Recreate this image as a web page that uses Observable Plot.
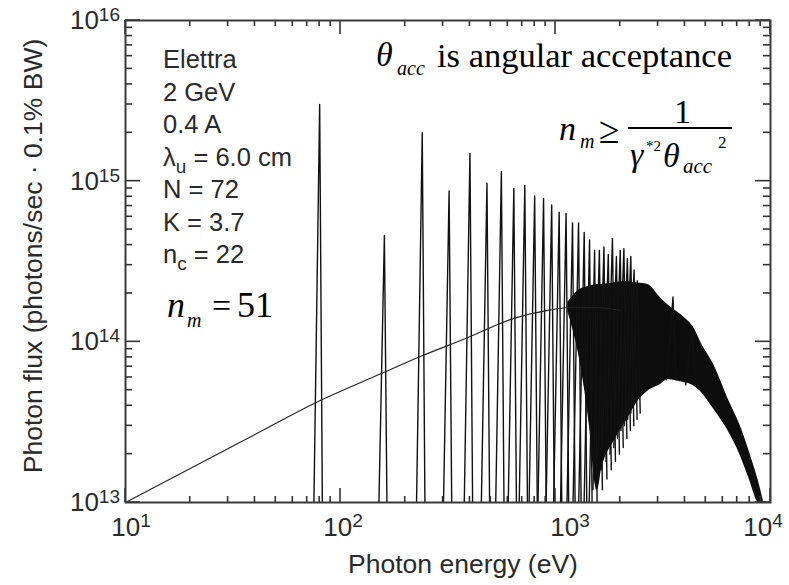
<!DOCTYPE html>
<html><head><meta charset="utf-8">
<script src="https://cdn.jsdelivr.net/npm/d3@7"></script>
<script src="https://cdn.jsdelivr.net/npm/@observablehq/plot@0.6"></script>
<style>
html,body{margin:0;padding:0;background:#fff;}
#chart svg{display:block;}
</style></head><body><div id="chart"></div>
<script>
// ---------- data ----------
// harmonic peaks: photon energy (eV) and peak flux
const harmonicE = [80,160,240,320,400,480,560,640,720,800,880,960,1040,1120,1200,1280,1360,1440,1520,1600,1680,1760,1840,1920,2000,2080,2160,2240,2320,2400,3520,4320];
const harmonicPeak = [3.0e15,4.6e14,2.0e15,8.7e14,1.49e15,9.7e14,1.15e15,9.0e14,9.4e14,8.1e14,7.8e14,7.1e14,6.4e14,6.3e14,5.5e14,5.5e14,4.8e14,4.3e14,3.7e14,3.7e14,3.9e14,3.5e14,4.4e14,3.4e14,3.7e14,3.8e14,3.3e14,3.4e14,2.8e14,2.4e14,1.9e14,1.25e14];
// lowest flux reached by the dips beside each harmonic (below 1e13 = off the axis)
const harmonicFloor = [5e12,5e12,5e12,5e12,5e12,5e12,5e12,5e12,5e12,5e12,5e12,5e12,5e12,5e12,5e12,5e12,5e12,5e12,5e12,1.2e13,1.4e13,1.6e13,1.8e13,2.0e13,2.2e13,2.5e13,2.8e13,3.0e13,3.3e13,3.6e13,5.8e13,5.4e13];
// dense high-energy band (overlapping harmonics): upper and lower envelope
const bandE      = [1150,1300,1450,1560,1620,1860,2120,2400,2680,3080,3320,3820,4380,4720,5430,6300,7250,8070,8700,9180];
const bandTop    = [1.75e14,2.1e14,2.2e14,2.25e14,2.25e14,2.3e14,2.35e14,2.3e14,2.25e14,1.85e14,1.68e14,1.46e14,1.21e14,9.8e13,7.1e13,4.4e13,2.9e13,1.9e13,1.37e13,1.03e13];
const bandBottom = [1.55e14,8.0e13,3.0e13,1.2e13,1.58e13,2.43e13,3.24e13,4.3e13,4.98e13,5.5e13,5.9e13,5.7e13,5.4e13,5.0e13,3.9e13,2.9e13,2.0e13,1.37e13,1.03e13,0.95e13];
// smooth (angle-integrated) curve
const smoothE = [10,20,40,80,153,235,390,640,920,1210,1600,2000];
const smoothF = [1.0e13,1.63e13,2.65e13,4.3e13,6.3e13,8.1e13,1.06e14,1.4e14,1.57e14,1.64e14,1.63e14,1.57e14];
// axes
const xTicks = [10,100,1000,10000];
const xExp = ["1","2","3","4"];
const yTicks = [1e13,1e14,1e15,1e16];
const yExp = ["13","14","15","16"];
const minorMult = [2,3,4,5,6,7,8,9];
const xTitle = "Photon energy (eV)";
const yTitle = "Photon flux (photons/sec \u00b7 0.1% BW)";
const infoLines = ["Elettra","2 GeV","0.4 A","\u03bb_u = 6.0 cm","N = 72","K = 3.7","n_c = 22"];

// ---------- tables for the marks ----------
const spikeRows = harmonicE.flatMap((E, i) => [
  {n: i, E: E * Math.pow(10, -0.03), F: harmonicFloor[i]},
  {n: i, E: E, F: harmonicPeak[i]},
  {n: i, E: E * Math.pow(10, 0.014), F: harmonicFloor[i]}
]);
const bandRows = bandE.map((E, i) => ({E, top: bandTop[i], bottom: bandBottom[i]}));
const smoothRows = smoothE.map((E, i) => ({E, F: smoothF[i]}));
const xMinor = xTicks.slice(0, -1).flatMap(d => minorMult.map(m => d * m));
const yMinor = yTicks.slice(0, -1).flatMap(d => minorMult.map(m => d * m));

const sans = "'Liberation Sans', Arial, Helvetica, sans-serif";
const serif = "'Liberation Serif', 'Times New Roman', Times, serif";
const ink = "#2a2a2a";
const xLabelNudge = [6, 3, 15, -7]; // horizontal placement of the x tick labels, as in the original

function ticksMark(index, scales, values, dim) {
  const {width, height, marginLeft, marginRight, marginTop, marginBottom} = dim;
  const x = scales.x, y = scales.y;
  const L = marginLeft, R = width - marginRight, T = marginTop, B = height - marginBottom;
  const g = d3.create("svg:g").attr("stroke", "#333").attr("stroke-width", 1.6);
  const seg = (x1, y1, x2, y2) => g.append("line").attr("x1", x1).attr("y1", y1).attr("x2", x2).attr("y2", y2);
  xTicks.forEach(v => { seg(x(v), B, x(v), B - 14); seg(x(v), T, x(v), T + 14); });
  xMinor.forEach(v => { seg(x(v), B, x(v), B - 6); seg(x(v), T, x(v), T + 6); });
  yTicks.forEach(v => { seg(L, y(v), L + 15, y(v)); seg(R, y(v), R - 15, y(v)); });
  yMinor.forEach(v => { seg(L, y(v), L + 7, y(v)); seg(R, y(v), R - 7, y(v)); });
  return g.node();
}

function texts(index, scales, values, dim) {
  const {width, height, marginLeft, marginTop, marginBottom} = dim;
  const x = scales.x, y = scales.y;
  const g = d3.create("svg:g").attr("text-anchor", "start");
  // x tick labels
  xTicks.forEach((v, i) => {
    const t = g.append("text").attr("x", x(v) + xLabelNudge[i]).attr("y", height - marginBottom + 34)
      .attr("text-anchor", "middle").attr("font-family", sans).attr("font-size", 26).attr("fill", ink);
    t.append("tspan").text("10");
    t.append("tspan").attr("dy", -9).attr("font-size", 19).text(xExp[i]);
  });
  // y tick labels
  yTicks.forEach((v, i) => {
    const t = g.append("text").attr("x", marginLeft - 5).attr("y", y(v) + 9)
      .attr("text-anchor", "end").attr("font-family", sans).attr("font-size", 26).attr("fill", ink);
    t.append("tspan").text("10");
    t.append("tspan").attr("dy", -8).attr("font-size", 19).text(yExp[i]);
  });
  // axis titles
  g.append("text").attr("x", 463).attr("y", 573).attr("text-anchor", "middle")
    .attr("font-family", sans).attr("font-size", 26.5).attr("fill", ink).text(xTitle);
  g.append("text").attr("transform", "translate(42,256) rotate(-90)").attr("text-anchor", "middle")
    .attr("font-family", sans).attr("font-size", 26.5).attr("fill", ink).text(yTitle);
  // machine parameters block
  infoLines.forEach((line, i) => {
    const t = g.append("text").attr("x", 163).attr("y", 68 + i * 32.5).attr("text-anchor", "start")
      .attr("font-family", sans).attr("font-size", 25.5).attr("fill", ink);
    const m = line.split("_");
    t.append("tspan").text(m[0]);
    if (m.length > 1) {
      t.append("tspan").attr("dy", 7).attr("font-size", 19).text(m[1].charAt(0));
      t.append("tspan").attr("dy", -7).text(m[1].slice(1));
    }
  });
  // serif annotations
  const st = (xx, yy, s, size, italic) => g.append("text").attr("x", xx).attr("y", yy)
    .attr("text-anchor", "start")
    .attr("font-family", serif).attr("font-size", size).attr("font-style", italic ? "italic" : "normal")
    .attr("fill", "#000").text(s);
  // theta_acc is angular acceptance
  st(376, 66, "\u03b8", 34, true);
  st(397, 75, "acc", 20, true);
  st(437, 67, "is angular acceptance", 34.5, false);
  // n_m >= 1 / (gamma*^2 theta_acc^2)
  st(559, 140, "n", 34, true);
  st(580, 148, "m", 20, true);
  st(599, 143, "\u2265", 38, false);
  st(674, 123, "1", 34, false);
  g.append("line").attr("x1", 628).attr("x2", 732).attr("y1", 128).attr("y2", 128)
    .attr("stroke", "#000").attr("stroke-width", 1.8);
  st(630, 166, "\u03b3", 34, true);
  st(646, 151, "*2", 15, false);
  st(663, 167, "\u03b8", 34, true);
  st(683, 173, "acc", 21, true);
  st(718, 148, "2", 17, false);
  // n_m = 51
  st(167, 317, "n", 36, true);
  st(187, 327, "m", 20, true);
  st(212, 317, "=", 34, false);
  st(237, 317, "51", 36, false);
  return g.node();
}

const chart = Plot.plot({
  width: 789, height: 585,
  marginLeft: 125, marginRight: 19, marginTop: 20, marginBottom: 83,
  x: {type: "log", domain: [10, 1e4], axis: null},
  y: {type: "log", domain: [1e13, 1e16], axis: null},
  marks: [
    Plot.areaY(bandRows, {x: "E", y1: "bottom", y2: "top", fill: "#0d0d0d", stroke: "#0d0d0d", strokeWidth: 1.5, curve: "monotone-x", clip: true}),
    Plot.line(spikeRows, {x: "E", y: "F", z: "n", stroke: "#111", strokeWidth: 1.4, clip: true}),
    Plot.line(smoothRows, {x: "E", y: "F", stroke: "#222", strokeWidth: 1.1, curve: "monotone-x", clip: true}),
    ticksMark,
    Plot.frame({stroke: "#3a3a3a", strokeWidth: 2}),
    texts
  ]
});
document.getElementById("chart").appendChild(chart);
</script></body></html>
